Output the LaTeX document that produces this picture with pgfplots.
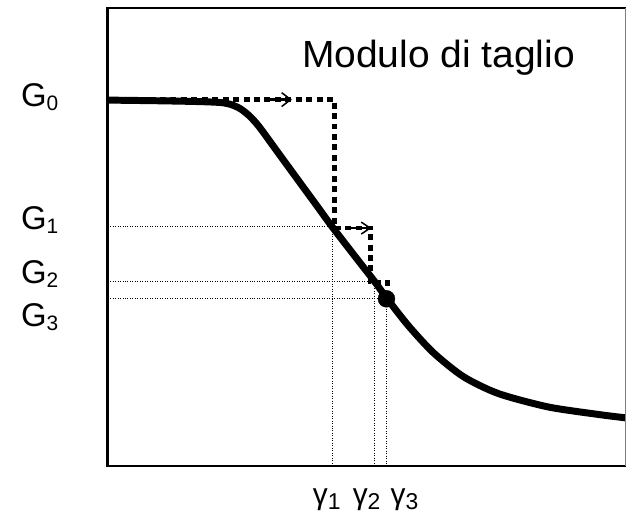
\documentclass[border=0pt]{standalone}
\usepackage{fontspec}
\setmainfont{Liberation Sans}
\usepackage{graphicx}
\usepackage{pgfplots}
\pgfplotsset{compat=1.18}
\usetikzlibrary{arrows.meta}

% labels with lowered subscripts in the text font
\newcommand{\Glab}[1]{G\raisebox{-4bp}{\fontsize{21bp}{21bp}\selectfont #1}}
\newcommand{\glab}[1]{γ\raisebox{-5bp}{\fontsize{23bp}{23bp}\selectfont #1}}

\begin{document}
\begin{tikzpicture}
\begin{axis}[
    scale only axis, width=520bp, height=460bp,
    xmin=108, xmax=628, ymin=48, ymax=508,
    hide axis, clip=false,
]
% picture bounds
\path (axis cs:0,0) rectangle (axis cs:629,516);

% thin guide lines
\addplot[black, line width=0.8bp, dash pattern=on 1bp off 1.5bp] coordinates {(108,288.3) (333.5,288.3) (333.5,48)};
\addplot[black, line width=0.8bp, dash pattern=on 1bp off 1.5bp] coordinates {(108,233.5) (376,233.5) (376,48)};
\addplot[black, line width=0.8bp, dash pattern=on 1bp off 1.5bp] coordinates {(108,216) (388,216) (388,48)};

% shear modulus curve
\addplot[black, line width=7bp, smooth, tension=0.45] coordinates {
    (108,415.5) (160,414.8) (200,414) (222,413) (232,411) (241,407)
    (250,400) (260,389) (280,361.6) (300,334.2) (318,309.6) (333.5,288.3)
    (360,254) (376,233.5) (388,217) (410,189) (435,162) (465,138)
    (500,121) (550,107.5) (600,100) (628,96.5)
};

% stepped path
\addplot[black, line width=4.5bp, dash pattern=on 6bp off 4.5bp] coordinates {
    (108,416) (336,416) (336,287) (372,287) (372,233) (389,233) (389,226)
};
\addplot[black, line width=2.5bp, -{Straight Barb[length=9bp, width=14bp, line width=1.5bp]}] coordinates {(270,416) (293,416)};
\addplot[black, line width=2.5bp, -{Straight Barb[length=9bp, width=12bp, line width=1.5bp]}] coordinates {(346,287) (373,287)};

% point G3
\addplot[only marks, mark=*, mark size=8.5bp, black] coordinates {(388,216)};

% frame
\draw[line width=2.6bp] (axis cs:628,508) -- (axis cs:108,508) -- (axis cs:108,48) -- (axis cs:628,48);
\draw[gray, line width=1bp] (axis cs:628,508) -- (axis cs:628,48);

\node[anchor=base west, inner sep=0, font=\fontsize{38bp}{44bp}\selectfont] at (axis cs:303,448) {\scalebox{1.03}[1]{Modulo di taglio}};

\node[anchor=base west, inner sep=0, font=\fontsize{33bp}{39bp}\selectfont] at (axis cs:21,409) {\Glab{0}};
\node[anchor=base west, inner sep=0, font=\fontsize{33bp}{39bp}\selectfont] at (axis cs:21,286) {\Glab{1}};
\node[anchor=base west, inner sep=0, font=\fontsize{33bp}{39bp}\selectfont] at (axis cs:21,231) {\Glab{2}};
\node[anchor=base west, inner sep=0, font=\fontsize{33bp}{39bp}\selectfont] at (axis cs:21,188) {\Glab{3}};

\node[anchor=base west, inner sep=0, font=\fontsize{30bp}{36bp}\selectfont] at (axis cs:314,9.4) {\glab{1}};
\node[anchor=base west, inner sep=0, font=\fontsize{30bp}{36bp}\selectfont] at (axis cs:354,9.4) {\glab{2}};
\node[anchor=base west, inner sep=0, font=\fontsize{30bp}{36bp}\selectfont] at (axis cs:392,9.4) {\glab{3}};
\end{axis}
\end{tikzpicture}
\end{document}
